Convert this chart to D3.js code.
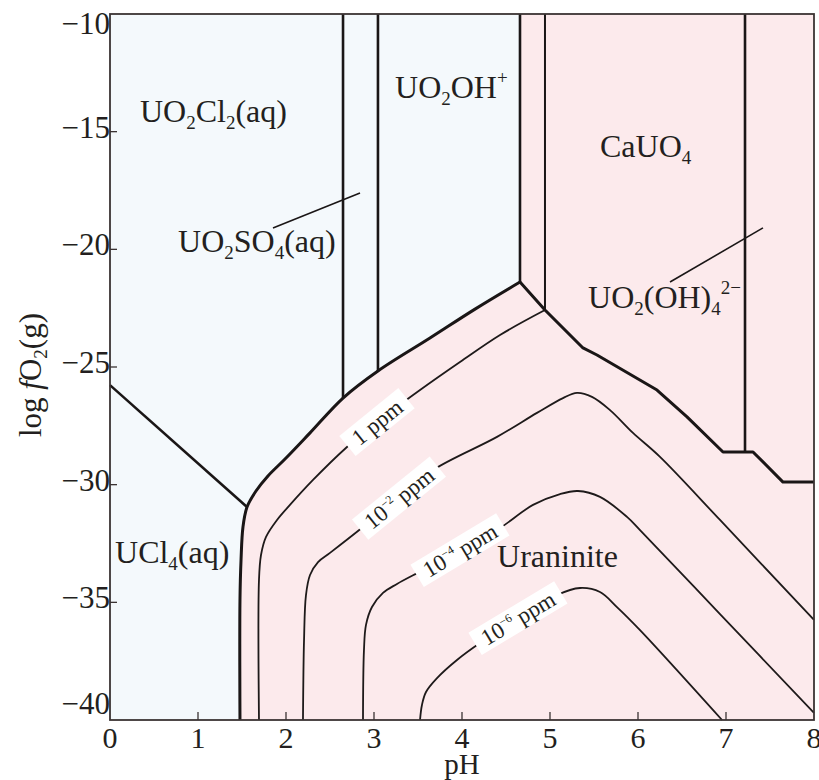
<!DOCTYPE html>
<html>
<head>
<meta charset="utf-8">
<script src="https://cdn.jsdelivr.net/npm/d3@7/dist/d3.min.js"></script>
<style>
  body { margin: 0; background: #fff; }
  text { font-family: "Liberation Serif", "Times New Roman", serif; fill: #231f20; }
</style>
</head>
<body>
<div id="chart"></div>
<script>
// axes
const xTicks = [0, 1, 2, 3, 4, 5, 6, 7, 8];
const yTicks = [-10, -15, -20, -25, -30, -35, -40];

// phase boundaries, points are [pH, log fO2]
const uraniniteEdge = [[1.477, -40], [1.477, -34.9], [1.489, -33.2], [1.511, -31.8], [1.557, -30.95],
  [1.659, -30.27], [1.795, -29.63], [1.989, -28.91], [2.273, -27.8], [2.648, -26.32], [3.045, -25.17],
  [3.636, -23.77], [4.148, -22.54], [4.659, -21.39]];
const ucl4Edge = [[0, -25.77], [1.557, -30.95]];
const rightEdge = [[4.659, -21.39], [4.943, -22.58], [5.375, -24.19], [5.534, -24.49], [6.216, -25.98],
  [6.557, -27.12], [6.966, -28.61], [7.307, -28.61], [7.648, -29.89], [8, -29.89]];
// vertical boundaries: pH and the lower end in log fO2
const verticalPH = [2.648, 3.045, 4.659, 4.943, 7.216];
const verticalEnd = [-26.32, -25.17, -21.39, -22.58, -28.61];

// solubility contours
const ppm1 = [[1.693, -40], [1.693, -34.05], [1.716, -32.99], [1.773, -32.22], [1.898, -31.5], [2.045, -30.86],
  [2.307, -29.8], [2.693, -28.4], [3.034, -27.34], [3.523, -25.98], [3.977, -24.79], [4.432, -23.64], [4.943, -22.58]];
const ppm2 = [[2.193, -40], [2.205, -36.6], [2.227, -34.69], [2.273, -33.84], [2.364, -33.29], [2.5, -32.9],
  [2.875, -31.8], [3.295, -30.52], [3.67, -29.38], [4.398, -27.97], [4.852, -26.95], [5.148, -26.32],
  [5.307, -26.1], [5.477, -26.27], [5.682, -26.83], [5.943, -27.8], [6.25, -28.82], [6.932, -31.5], [8, -35.75]];
const ppm4 = [[2.875, -40], [2.886, -37.03], [2.909, -35.96], [2.977, -35.2], [3.102, -34.6], [3.261, -34.22],
  [3.557, -33.63], [3.977, -32.78], [4.398, -31.93], [4.807, -30.86], [5.114, -30.4], [5.318, -30.27],
  [5.568, -30.52], [5.875, -31.37], [6.023, -31.93], [6.932, -35.5], [8, -39.7]];
const ppm6 = [[3.523, -40], [3.545, -39.36], [3.591, -38.81], [3.716, -38.22], [3.943, -37.45], [4.205, -36.73],
  [4.659, -35.67], [5.08, -34.69], [5.341, -34.39], [5.568, -34.56], [5.761, -35.2], [6.023, -36.18], [6.955, -40]];
const contourExp = ["", "−2", "−4", "−6"];
const contourLabelAt = [[3.034, -27.34], [3.284, -30.57], [3.977, -32.78], [4.636, -35.67]];

(() => {
    const width = 819, height = 780;
    const x = d3.scaleLinear().domain([0, 8]).range([110, 814]);
    const y = d3.scaleLinear().domain([-10, -40]).range([14, 720]);

    const svg = d3.select("#chart").append("svg")
        .attr("width", width)
        .attr("height", height);

    const smooth = d3.line().x(d => x(d[0])).y(d => y(d[1])).curve(d3.curveCatmullRom.alpha(0.5));
    const straight = d3.line().x(d => x(d[0])).y(d => y(d[1]));

    // fields
    svg.append("rect")
        .attr("x", x(0)).attr("y", y(-10))
        .attr("width", x(8) - x(0)).attr("height", y(-40) - y(-10))
        .attr("fill", "#f4f9fc");

    const last = uraniniteEdge[uraniniteEdge.length - 1];
    svg.append("path")
        .attr("d", smooth(uraniniteEdge) + `L${x(last[0])},${y(-10)}L${x(8)},${y(-10)}L${x(8)},${y(-40)}Z`)
        .attr("fill", "#fceaec");

    // contours
    [ppm1, ppm2, ppm4, ppm6].forEach(c => {
        svg.append("path")
            .attr("d", smooth(c))
            .attr("fill", "none")
            .attr("stroke", "#1e1a1a")
            .attr("stroke-width", 1.8);
    });

    contourExp.forEach((e, i) => {
        const [px, pl] = contourLabelAt[i];
        const ang = i < 2 ? -39 : -31;
        const g = svg.append("g")
            .attr("transform", `translate(${x(px)},${y(pl)}) rotate(${ang})`);
        const w = i === 0 ? 76 : 100;
        g.append("rect")
            .attr("x", -w / 2).attr("y", -13)
            .attr("width", w).attr("height", 26)
            .attr("fill", "#fff");
        const t = g.append("text")
            .attr("text-anchor", "middle")
            .attr("y", 8)
            .style("font-size", "23px");
        if (e === "") {
            t.text("1 ppm");
        } else {
            t.append("tspan").text("10");
            t.append("tspan").attr("dy", -9).style("font-size", "12px").text(e);
            t.append("tspan").attr("dy", 9).text(" ppm");
        }
    });

    // boundaries
    svg.append("path")
        .attr("d", smooth(uraniniteEdge))
        .attr("fill", "none").attr("stroke", "#1a1616").attr("stroke-width", 3);
    svg.append("path")
        .attr("d", straight(rightEdge))
        .attr("fill", "none").attr("stroke", "#1a1616").attr("stroke-width", 3)
        .attr("stroke-linejoin", "round");
    svg.append("path")
        .attr("d", straight(ucl4Edge))
        .attr("fill", "none").attr("stroke", "#1a1616").attr("stroke-width", 2.6);
    verticalPH.forEach((p, i) => {
        svg.append("line")
            .attr("x1", x(p)).attr("x2", x(p))
            .attr("y1", y(-10)).attr("y2", y(verticalEnd[i]))
            .attr("stroke", "#1a1616")
            .attr("stroke-width", i === 3 ? 2 : 2.6);
    });

    // leader lines
    [[[1.852, -19.09], [2.841, -17.61]], [[6.364, -21.39], [7.42, -19.09]]].forEach(l => {
        svg.append("path").attr("d", straight(l))
            .attr("fill", "none").attr("stroke", "#1a1616").attr("stroke-width", 1.6);
    });

    // frame and ticks
    svg.append("rect")
        .attr("x", x(0)).attr("y", y(-10))
        .attr("width", x(8) - x(0)).attr("height", y(-40) - y(-10))
        .attr("fill", "none").attr("stroke", "#3b3333").attr("stroke-width", 1.8);

    xTicks.slice(1, -1).forEach(v => {
        svg.append("line").attr("x1", x(v)).attr("x2", x(v))
            .attr("y1", y(-40)).attr("y2", y(-40) - 8)
            .attr("stroke", "#3b3333").attr("stroke-width", 1.3);
    });
    xTicks.forEach(v => {
        svg.append("text")
            .attr("x", x(v)).attr("y", 748)
            .attr("text-anchor", "middle")
            .style("font-size", "30px")
            .text(v);
    });

    yTicks.slice(1, -1).forEach(v => {
        svg.append("line").attr("x1", x(0)).attr("x2", x(0) + 7)
            .attr("y1", y(v)).attr("y2", y(v))
            .attr("stroke", "#3b3333").attr("stroke-width", 1.3);
    });
    yTicks.forEach(v => {
        const cy = Math.min(Math.max(y(v) - 4, 24), 704);
        svg.append("text")
            .attr("x", 110).attr("y", cy + 10)
            .attr("text-anchor", "end")
            .style("font-size", "31px")
            .text(String(v).replace("-", "−"));
    });

    // axis titles
    svg.append("text")
        .attr("x", (x(0) + x(8)) / 2).attr("y", 774)
        .attr("text-anchor", "middle")
        .style("font-size", "29px")
        .text("pH");

    const yt = svg.append("text")
        .attr("transform", `translate(41,${(y(-10) + y(-40)) / 2 + 8}) rotate(-90)`)
        .attr("text-anchor", "middle")
        .style("font-size", "31px");
    yt.append("tspan").text("log ");
    yt.append("tspan").style("font-style", "italic").text("f");
    yt.append("tspan").text("O");
    yt.append("tspan").attr("dy", 6).style("font-size", "19px").text("2");
    yt.append("tspan").attr("dy", -6).text("(g)");

    // field names
    function chem(px, pl, parts) {
        const t = svg.append("text")
            .attr("x", x(px)).attr("y", y(pl))
            .style("font-size", "32px");
        let shift = 0;
        parts.forEach(([s, k]) => {
            const want = k === "sub" ? 7 : k === "sup" ? -14 : 0;
            t.append("tspan")
                .attr("dy", want - shift)
                .style("font-size", k === "n" ? null : "19px")
                .text(s);
            shift = want;
        });
    }

    chem(0.341, -14.59, [["UO", "n"], ["2", "sub"], ["Cl", "n"], ["2", "sub"], ["(aq)", "n"]]);
    chem(0.773, -20.11, [["UO", "n"], ["2", "sub"], ["SO", "n"], ["4", "sub"], ["(aq)", "n"]]);
    chem(3.239, -13.57, [["UO", "n"], ["2", "sub"], ["OH", "n"], ["+", "sup"]]);
    chem(5.568, -16.08, [["CaUO", "n"], ["4", "sub"]]);
    chem(5.432, -22.49, [["UO", "n"], ["2", "sub"], ["(OH)", "n"], ["4", "sub"], ["2−", "sup"]]);
    chem(0.057, -33.33, [["UCl", "n"], ["4", "sub"], ["(aq)", "n"]]);
    chem(4.398, -33.5, [["Uraninite", "n"]]);
})();
</script>
</body>
</html>
